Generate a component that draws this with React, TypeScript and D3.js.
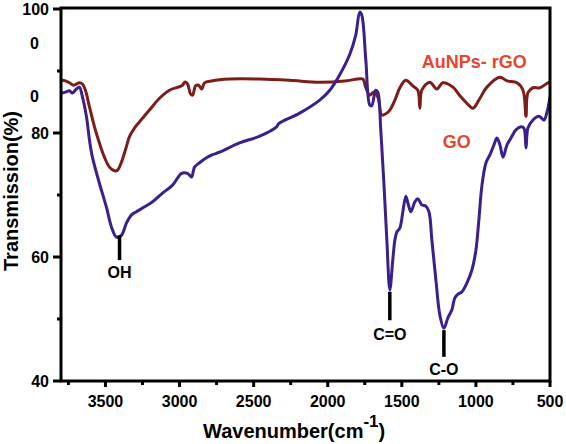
import React from "react";
import * as d3 from "d3";

// GO spectrum: wavenumber (cm-1), transmission (%)
const goWave = [3797,3770,3743,3723,3696,3676,3655,3628,3608,3588,3541,3493,3459,3426,3392,3358,3324,3291,3250,3182,3115,3047,2986,2946,2919,2899,2865,2818,2777,2730,2595,2459,2345,2331,2189,2054,1986,1919,1851,1811,1784,1770,1743,1716,1703,1676,1662,1642,1622,1601,1581,1561,1547,1534,1513,1493,1473,1459,1439,1412,1392,1365,1338,1317,1297,1270,1243,1216,1189,1162,1142,1121,1094,1061,1027,1000,980,959,932,905,878,858,838,817,790,763,730,696,676,662,649,615,574,541,520,500];
const goTrans = [86.45,86.6,86.8,86.45,87.1,87.4,85.8,82.6,78.9,76.1,71.9,68.0,64.8,63.2,63.5,65.5,66.8,67.3,67.9,68.9,70.3,71.6,73.5,73.5,72.9,74.5,75.2,76.0,76.5,76.9,78.4,79.5,81.0,81.5,83.2,85.3,86.9,89.4,92.7,95.8,99.5,99.0,91.8,84.5,84.4,86.9,86.6,80.5,72.4,62.7,54.7,59.5,62.7,64.0,64.7,67.3,69.8,68.7,67.3,68.9,69.4,68.4,68.2,67.3,62.7,56.3,50.6,48.5,50.2,51.5,53.4,54.0,54.4,55.8,57.9,61.1,66.0,71.6,75.2,76.5,78.1,79.2,78.1,76.1,78.1,79.2,80.5,81.0,80.8,77.6,80.8,82.1,82.7,82.1,83.4,85.8];

// AuNPs-rGO spectrum
const rgoWave = [3797,3770,3743,3716,3696,3676,3655,3635,3608,3574,3541,3507,3473,3439,3419,3392,3365,3338,3304,3270,3203,3135,3068,2980,2966,2946,2926,2912,2892,2872,2851,2831,2784,2662,2459,2257,2054,1885,1797,1763,1743,1716,1689,1662,1635,1608,1581,1547,1513,1473,1426,1392,1378,1365,1311,1264,1223,1155,1108,1061,1020,973,926,838,790,723,682,662,649,615,568,514,500];
const rgoTrans = [88.55,88.4,88.1,87.7,87.9,88.1,87.9,86.9,84.2,81.0,78.4,76.1,74.5,73.9,74.0,75.3,77.3,79.4,80.8,81.8,83.7,85.6,86.9,87.7,88.2,87.9,86.3,86.1,87.6,87.7,87.1,88.1,88.4,88.7,88.7,88.5,88.2,88.4,88.7,88.7,87.3,86.1,86.6,85.8,82.9,83.1,83.7,85.3,87.3,88.5,87.6,86.9,84.0,86.9,88.2,87.1,88.1,87.4,86.0,84.8,84.0,85.6,87.4,89.0,88.4,88.1,86.9,82.7,86.5,87.3,87.3,88.1,88.2];

const xTickValues = [3500, 3000, 2500, 2000, 1500, 1000, 500];
const xMinorValues = [3750, 3250, 2750, 2250, 1750, 1250, 750];
const yTickValues = [100, 80, 60, 40];
const yMinorValues = [90, 70, 50];
const yStrayValues = [94.5, 86];
const yStrayText = ["0", "0"];

// peak markers: wavenumber, top T, bottom T, label, label T
const peakWave = [3405, 1581, 1216];
const peakTop = [63.5, 54.4, 48.2];
const peakBottom = [59.5, 49.8, 43.9];
const peakLabels = ["OH", "C=O", "C-O"];
const peakLabelT = [56.6, 46.6, 41.0];

const seriesLabels = ["AuNPs- rGO", "GO"];
const seriesLabelWave = [1365, 1223];
const seriesLabelT = [90.5, 77.6];

const W = 566, H = 444;
const L = 61, R = 550, T = 9, B = 381;

export default function App() {
  const x = d3.scaleLinear().domain([3800, 500]).range([L, R]);
  const y = d3.scaleLinear().domain([40, 100]).range([B, T]);
  const line = d3
    .line<[number, number]>()
    .x((d) => x(d[0]))
    .y((d) => y(d[1]))
    .curve(d3.curveCatmullRom.alpha(0.5));
  const go = goWave.map((w, i) => [w, goTrans[i]] as [number, number]);
  const rgo = rgoWave.map((w, i) => [w, rgoTrans[i]] as [number, number]);
  const font = "Arial, 'Liberation Sans', Helvetica, sans-serif";
  const labelColor = "#e8452c";

  return (
    <svg
      width={W}
      height={H}
      style={{ position: "absolute", left: 0, top: 0, background: "#fff" }}
      fontFamily={font}
    >
      <defs>
        <clipPath id="plot">
          <rect x={L} y={T - 2} width={R - L} height={B - T + 2} />
        </clipPath>
      </defs>
      <g clipPath="url(#plot)">
        <path d={line(rgo) || ""} fill="none" stroke="#7d1d1a" strokeWidth={3} strokeLinejoin="round" />
        <path d={line(go) || ""} fill="none" stroke="#3b1f8c" strokeWidth={3} strokeLinejoin="round" />
      </g>
      {/* frame */}
      <rect x={L} y={T - 1} width={R - L} height={B - T + 1} fill="none" stroke="#000" strokeWidth={3} />
      {/* x ticks */}
      {xTickValues.map((v) => (
        <g key={"xt" + v}>
          <line x1={x(v)} x2={x(v)} y1={B} y2={B + 6} stroke="#000" strokeWidth={3} />
          <text x={x(v)} y={407} textAnchor="middle" fontSize={16} fontWeight="bold">
            {v}
          </text>
        </g>
      ))}
      {xMinorValues.map((v) => (
        <line key={"xm" + v} x1={x(v)} x2={x(v)} y1={B} y2={B + 4} stroke="#000" strokeWidth={3} />
      ))}
      {/* y ticks */}
      {yTickValues.map((v) => (
        <g key={"yt" + v}>
          <line x1={L - 8} x2={L} y1={y(v)} y2={y(v)} stroke="#000" strokeWidth={3} />
          <text x={49} y={y(v)} dy="0.36em" textAnchor="end" fontSize={16} fontWeight="bold">
            {v}
          </text>
        </g>
      ))}
      {yMinorValues.map((v) => (
        <line key={"ym" + v} x1={L - 4} x2={L} y1={y(v)} y2={y(v)} stroke="#000" strokeWidth={3} />
      ))}
      {yStrayValues.map((v, i) => (
        <text key={"ys" + i} x={39} y={y(v)} dy="0.36em" textAnchor="end" fontSize={16} fontWeight="bold">
          {yStrayText[i]}
        </text>
      ))}
      {/* peak markers */}
      {peakWave.map((w, i) => (
        <g key={"pk" + i}>
          <line x1={x(w)} x2={x(w)} y1={y(peakTop[i])} y2={y(peakBottom[i])} stroke="#000" strokeWidth={3.5} />
          <text x={x(w)} y={y(peakLabelT[i])} textAnchor="middle" fontSize={16} fontWeight="bold">
            {peakLabels[i]}
          </text>
        </g>
      ))}
      {/* series labels */}
      {seriesLabels.map((s, i) => (
        <text key={"sl" + i} x={x(seriesLabelWave[i])} y={y(seriesLabelT[i])} fontSize={18} fontWeight="bold" fill={labelColor}>
          {s}
        </text>
      ))}
      {/* axis titles */}
      <text transform="translate(18,191) rotate(-90)" textAnchor="middle" fontSize={20} fontWeight="bold">
        Transmission(%)
      </text>
      <text x={203} y={438} fontSize={20} fontWeight="bold">
        Wavenumber(cm
        <tspan fontSize={17} dy={-11}>-1</tspan>
        <tspan dy={11}>)</tspan>
      </text>
    </svg>
  );
}
